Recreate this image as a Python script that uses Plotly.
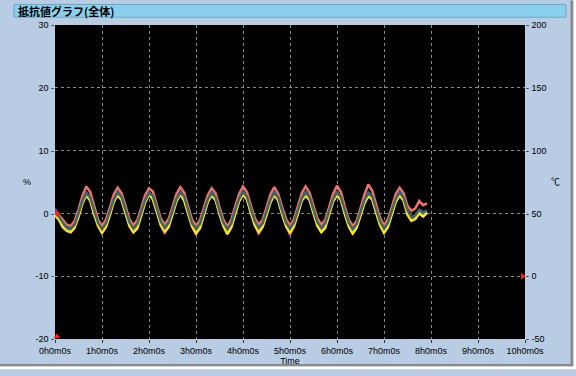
import plotly.graph_objects as go

# sample times (minutes) every 5 min
minutes = list(range(0, 480, 5))
hours = [m / 60 for m in minutes]

teal = [0.2, -0.5, -1.5, -2.2, -2.4, -1.8, 0.0, 2.0, 3.2, 2.5, 0.5, -1.5, -2.5, -1.6, 0.3, 2.2,
        3.3, 2.6, 0.6, -1.4, -2.4, -1.7, 0.2, 2.1, 3.2, 2.8, 0.8, -1.3, -2.3, -1.5, 0.4, 2.3,
        3.3, 2.7, 0.5, -1.6, -2.4, -1.7, 0.3, 2.2, 3.2, 2.6, 0.4, -1.5, -2.5, -1.6, 0.5, 2.3,
        3.4, 2.7, 0.7, -1.2, -2.3, -1.6, 0.3, 2.2, 3.3, 2.5, 0.4, -1.5, -2.4, -1.5, 0.5, 2.4,
        3.3, 2.6, 0.6, -1.4, -2.3, -1.6, 0.4, 2.3, 3.3, 2.6, 0.5, -1.5, -2.5, -1.7, 0.2, 2.1,
        3.2, 2.7, 0.7, -1.3, -2.4, -1.5, 0.4, 2.3, 3.3, 2.5, 0.5, -0.6, -0.3, 0.6, 0.2, 0.5]

yellow = [-0.3, -1.0, -2.2, -2.8, -3.0, -2.3, -0.6, 1.6, 2.9, 2.0, -0.2, -2.0, -3.1, -2.2, -0.3, 1.8,
          3.0, 2.1, 0.0, -2.0, -3.0, -2.4, -0.4, 1.7, 3.0, 2.2, 0.2, -1.9, -2.9, -2.2, -0.2, 1.9,
          3.1, 2.0, -0.1, -2.1, -3.2, -2.4, -0.3, 1.8, 2.9, 2.1, -0.1, -2.0, -3.3, -2.3, -0.2, 1.9,
          3.0, 2.2, 0.1, -1.9, -3.0, -2.2, -0.3, 1.7, 3.0, 2.0, -0.2, -2.1, -3.1, -2.1, -0.1, 2.0,
          2.9, 2.1, 0.0, -2.0, -3.0, -2.3, -0.2, 1.9, 2.9, 2.1, -0.1, -2.1, -3.2, -2.3, -0.4, 1.6,
          2.8, 2.2, 0.1, -1.9, -3.1, -2.2, -0.2, 1.8, 2.9, 2.0, -0.2, -1.2, -0.9, 0.0, -0.5, 0.1]

red = [0.5, -0.2, -1.0, -1.8, -2.0, -1.2, 0.6, 2.8, 4.3, 3.4, 1.0, -1.0, -2.0, -1.0, 0.9, 3.0,
       4.1, 3.2, 1.2, -0.9, -1.9, -1.1, 0.8, 2.9, 4.0, 3.5, 1.3, -0.8, -1.8, -0.9, 1.0, 3.1,
       4.2, 3.3, 1.1, -1.0, -2.0, -1.1, 0.9, 2.9, 4.0, 3.2, 1.0, -1.0, -2.1, -1.0, 1.1, 3.1,
       4.3, 3.4, 1.3, -0.7, -1.8, -1.0, 0.9, 3.0, 4.2, 3.1, 1.0, -0.9, -1.9, -0.9, 1.1, 3.2,
       4.3, 3.3, 1.2, -0.8, -1.8, -1.0, 1.0, 3.1, 4.4, 3.4, 1.1, -1.0, -2.0, -1.2, 0.8, 3.0,
       4.6, 3.6, 1.4, -0.7, -1.9, -0.9, 1.0, 3.1, 4.1, 3.2, 1.2, 0.4, 0.8, 2.0, 1.3, 1.6]

blue = [0.0, -0.8, -1.9, -2.6, -2.8, -2.0, -0.2, 1.9, 3.4, 2.2, 0.2, -1.8, -2.9, -1.9, 0.1, 2.0,
        3.5, 2.4, 0.3, -1.7, -2.7, -2.0, -0.1, 2.0, 3.4, 2.5, 0.5, -1.6, -2.7, -1.8, 0.1, 2.1,
        3.5, 2.4, 0.2, -1.9, -2.9, -2.0, 0.0, 2.0, 3.4, 2.3, 0.1, -1.8, -3.0, -1.9, 0.2, 2.1,
        3.6, 2.4, 0.4, -1.5, -2.7, -1.9, 0.0, 2.0, 3.5, 2.3, 0.1, -1.8, -2.8, -1.8, 0.2, 2.2,
        3.5, 2.4, 0.3, -1.7, -2.7, -1.9, 0.1, 2.1, 3.5, 2.3, 0.2, -1.8, -2.9, -2.0, -0.1, 1.9,
        3.4, 2.5, 0.4, -1.6, -2.8, -1.8, 0.1, 2.1, 3.5, 2.3, 0.2, -0.9, -0.6, 0.3, -0.1, 0.3]

purple = [0.8, -0.6, -1.7, -2.5, -2.9, -2.1, -0.3, 1.8, 3.0, 2.3, 0.1, -1.9, -3.0, -2.0, 0.0, 1.9,
          3.1, 2.3, 0.2, -1.8, -3.1, -2.1, -0.2, 1.9, 3.0, 2.4, 0.4, -1.7, -3.3, -2.0, 0.0, 2.0,
          3.1, 2.3, 0.1, -2.0, -3.4, -2.1, -0.1, 1.9, 3.0, 2.2, 0.0, -1.9, -3.2, -2.0, 0.1, 2.0,
          3.1, 2.3, 0.3, -1.6, -3.4, -2.0, -0.1, 1.9, 3.1, 2.2, 0.0, -1.9, -3.5, -1.9, 0.1, 2.1,
          3.0, 2.3, 0.2, -1.8, -3.0, -2.0, 0.0, 2.0, 3.0, 2.2, 0.1, -1.9, -3.3, -2.1, -0.2, 1.8,
          2.7, 2.4, 0.3, -1.7, -3.0, -1.9, 0.0, 2.0, 3.0, 2.2, 0.1, -1.0, -0.7, 0.2, -0.2, 0.2]

x_tickvals = list(range(0, 11))
x_ticktext = [f"{h}h0m0s" for h in x_tickvals]
y_tickvals = [-20, -10, 0, 10, 20, 30]
y_ticktext = [f"{v} -" for v in ["-20", "-10", "0", "10", "20", "30"]]
y2_tickvals = [-50, 0, 50, 100, 150, 200]
y2_ticktext = [f"- {v}" for v in ["-50", "0", "50", "100", "150", "200"]]

title_text = "抵抗値グラフ(全体)"
bg = "#b8cce4"

series = [
    ("red", red, "#f07466"),
    ("purple", purple, "#8a2aa8"),
    ("blue", blue, "#3f63cf"),
    ("yellow", yellow, "#ffe61a"),
    ("teal", teal, "#3f6464"),
]

fig = go.Figure()
for name, vals, col in series:
    fig.add_trace(go.Scatter(x=hours, y=vals, mode="lines", name=name,
                             line=dict(color=col, width=2.5), showlegend=False))

# cursor markers
fig.add_trace(go.Scatter(x=[0.04], y=[-19.6], mode="markers",
                         marker=dict(symbol="triangle-up", color="#ff2020", size=6),
                         showlegend=False, cliponaxis=False))
fig.add_trace(go.Scatter(x=[0.05], y=[0], mode="markers",
                         marker=dict(symbol="triangle-right", color="#ff2020", size=6),
                         showlegend=False, cliponaxis=False))
fig.add_trace(go.Scatter(x=[9.95], y=[0], mode="markers", yaxis="y2",
                         marker=dict(symbol="triangle-right", color="#ff2020", size=6),
                         showlegend=False, cliponaxis=False))

W, H = 576, 376
L, R, T, B = 55, 51, 25, 30
pw, ph = W - L - R, H - T - B


def px(x):
    return (x - L) / pw


def py(y):
    return (H - B - y) / ph


shapes = [
    dict(type="rect", xref="paper", yref="paper", x0=px(14), x1=px(566), y0=py(17), y1=py(4),
         fillcolor="#8ad0ec", line=dict(color="#6aa8c8", width=1)),
    dict(type="rect", xref="paper", yref="paper", x0=px(570.5), x1=px(573.5), y0=py(374), y1=py(0),
         fillcolor="#8a8a8a", line=dict(width=0)),
    dict(type="rect", xref="paper", yref="paper", x0=px(0), x1=px(573.5), y0=py(374), y1=py(371.5),
         fillcolor="#8a8a8a", line=dict(width=0)),
    dict(type="rect", xref="paper", yref="paper", x0=px(573.5), x1=px(577), y0=py(377), y1=py(-1),
         fillcolor="white", line=dict(width=0)),
    dict(type="rect", xref="paper", yref="paper", x0=px(-1), x1=px(577), y0=py(377), y1=py(374),
         fillcolor="white", line=dict(width=0)),
]

annotations = [
    dict(text=f"<b>{title_text}</b>", xref="paper", yref="paper", x=px(16), y=py(10.5),
         xanchor="left", yanchor="middle", showarrow=False,
         font=dict(family="Noto Sans CJK JP", size=11, color="black")),
    dict(text="%", xref="paper", yref="paper", x=px(27), y=py(185), showarrow=False,
         xanchor="center", yanchor="middle", font=dict(family="Liberation Sans", size=9, color="black")),
    dict(text="℃", xref="paper", yref="paper", x=px(555), y=py(185), showarrow=False,
         xanchor="center", yanchor="middle", font=dict(family="Noto Sans CJK JP", size=9, color="black")),
]

tickfont = dict(family="Liberation Sans", size=9, color="black")
grid = dict(showgrid=True, gridcolor="#8a8a8a", gridwidth=1, griddash="dot", zeroline=False)

fig.update_layout(
    width=W, height=H,
    margin=dict(l=L, r=R, t=T, b=B, pad=0),
    paper_bgcolor=bg, plot_bgcolor="black",
    shapes=shapes, annotations=annotations,
    xaxis=dict(range=[0, 10], tickvals=x_tickvals, ticktext=x_ticktext, ticks="outside",
               ticklen=3, tickcolor="#333", tickfont=tickfont, showline=False,
               title=dict(text="Time", font=tickfont, standoff=2), **grid),
    yaxis=dict(range=[-20, 30], tickvals=y_tickvals, ticktext=y_ticktext, ticks="",
               tickfont=tickfont, showline=False, **grid),
    yaxis2=dict(range=[-50, 200], tickvals=y2_tickvals, ticktext=y2_ticktext, ticks="",
                overlaying="y", side="right", tickfont=tickfont, showgrid=False,
                zeroline=False, showline=False),
)

fig.write_html("out.html")
